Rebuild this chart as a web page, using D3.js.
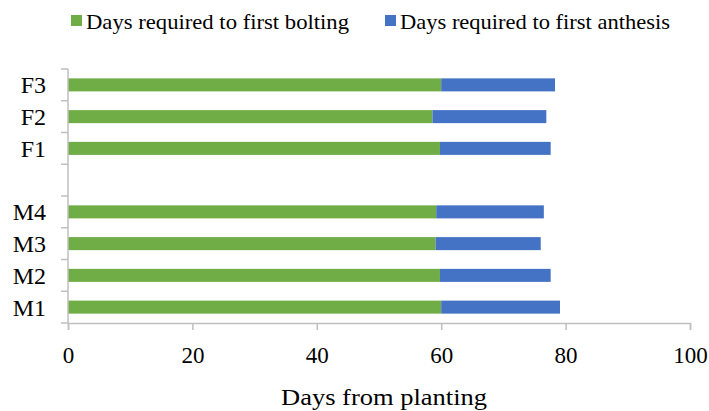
<!DOCTYPE html>
<html>
<head>
<meta charset="utf-8">
<script src="https://cdn.jsdelivr.net/npm/d3@7"></script>
<style>
  html, body { margin: 0; padding: 0; background: #fff; }
  svg { display: block; }
  svg text { font-family: "Times New Roman", "Liberation Serif", Tinos, serif; fill: #000; }
</style>
</head>
<body>
<svg id="chart" width="709" height="411"></svg>
<script>
// Treatments from bottom to top; the empty slot separates the M and F groups
const categories = ["M1", "M2", "M3", "M4", "", "F1", "F2", "F3"];
// Days from planting until first bolting
const bolting = [60.0, 59.8, 59.1, 59.2, null, 59.8, 58.6, 60.0];
// Additional days from bolting until first anthesis (stacked on bolting)
const anthesis = [19.1, 17.8, 16.9, 17.3, null, 17.8, 18.3, 18.3];
const xTicks = [0, 20, 40, 60, 80, 100];
const seriesNames = ["Days required to first bolting", "Days required to first anthesis"];
const colors = ["#70ad47", "#4472c4"];

const svg = d3.select("#chart");
const margin = { left: 68, right: 19, top: 69, bottom: 88 };
const W = 709, H = 411;
const axisColor = "#bfbfbf";

const x = d3.scaleLinear().domain([0, 100]).range([margin.left, W - margin.right]);
const yOuter = d3.scaleBand()
  .domain(d3.range(categories.length))
  .range([H - margin.bottom, margin.top]);
const y = d3.scaleBand()
  .domain(d3.range(categories.length))
  .range([H - margin.bottom, margin.top])
  .paddingInner(0.59).paddingOuter(0.295);

// Stacked bars
const rows = categories.map((c, i) => ({ i, b: bolting[i], a: anthesis[i] })).filter(d => d.b != null);
const g = svg.append("g");
g.selectAll("rect.bolt").data(rows).join("rect")
  .attr("class", "bolt")
  .attr("x", x(0))
  .attr("y", d => y(d.i))
  .attr("width", d => x(d.b) - x(0))
  .attr("height", y.bandwidth())
  .attr("fill", colors[0]);
g.selectAll("rect.anth").data(rows).join("rect")
  .attr("class", "anth")
  .attr("x", d => x(d.b))
  .attr("y", d => y(d.i))
  .attr("width", d => x(d.b + d.a) - x(d.b))
  .attr("height", y.bandwidth())
  .attr("fill", colors[1]);

// X axis
const xAxis = svg.append("g")
  .attr("transform", `translate(0,${H - margin.bottom})`)
  .call(d3.axisBottom(x).tickValues(xTicks).tickSize(7));
xAxis.attr("font-family", null).attr("font-size", null);
xAxis.select(".domain").attr("stroke", axisColor).attr("stroke-width", 1.5);
xAxis.selectAll(".tick line").attr("stroke", axisColor).attr("stroke-width", 1.5);
xAxis.selectAll(".tick text")
  .attr("y", 40).attr("dy", null)
  .style("font-size", "23px");

// Y axis: ticks on category boundaries
const bounds = d3.range(categories.length + 1).map(k => H - margin.bottom - k * yOuter.step());
const ya = svg.append("g");
ya.append("line")
  .attr("x1", x(0)).attr("x2", x(0))
  .attr("y1", d3.min(bounds)).attr("y2", d3.max(bounds))
  .attr("stroke", axisColor).attr("stroke-width", 1.5);
ya.selectAll("line.tk").data(bounds).join("line")
  .attr("class", "tk")
  .attr("x1", x(0) - 7).attr("x2", x(0))
  .attr("y1", d => d).attr("y2", d => d)
  .attr("stroke", axisColor).attr("stroke-width", 1.5);
ya.selectAll("text").data(categories.map((c, i) => ({ c, i }))).join("text")
  .attr("x", x(0) - 22)
  .attr("y", d => yOuter(d.i) + yOuter.bandwidth() / 2 + 8.5)
  .attr("text-anchor", "end")
  .style("font-size", "24px")
  .text(d => d.c);

// Axis title
svg.append("text")
  .attr("x", 281)
  .attr("y", 405)
  .attr("textLength", 206)
  .attr("lengthAdjust", "spacingAndGlyphs")
  .style("font-size", "24px")
  .text("Days from planting");

// Legend
const legendX = [71, 385];
const legendLen = [263, 270];
const lg = svg.append("g");
seriesNames.forEach((name, k) => {
  lg.append("rect")
    .attr("x", legendX[k]).attr("y", 15)
    .attr("width", 11).attr("height", 11)
    .attr("fill", colors[k]);
  lg.append("text")
    .attr("x", legendX[k] + 15).attr("y", 28.5)
    .attr("textLength", legendLen[k])
    .attr("lengthAdjust", "spacingAndGlyphs")
    .style("font-size", "21px")
    .text(name);
});
</script>
</body>
</html>
